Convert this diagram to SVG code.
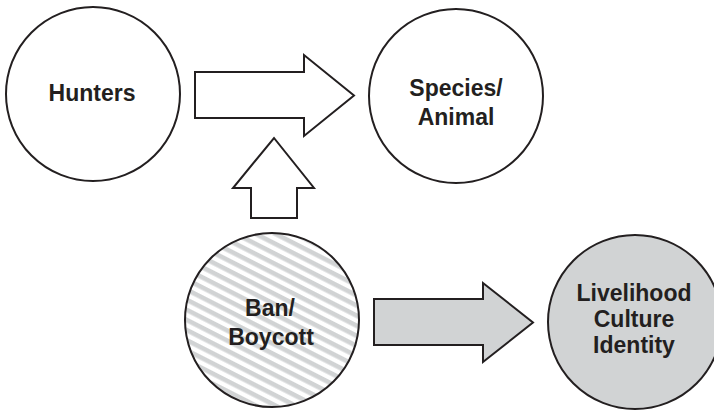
<svg xmlns="http://www.w3.org/2000/svg" width="714" height="411" viewBox="0 0 714 411">
  <style>
    .node { stroke: #231f20; stroke-width: 2; }
    .plain { fill: #ffffff; }
    .grey { fill: #d1d3d4; }
    .arrow { stroke: #231f20; stroke-width: 2; stroke-linejoin: miter; }
    .label { font-family: "Liberation Sans", Arial, sans-serif; font-weight: bold; font-size: 23px; fill: #231f20; text-anchor: middle; }
  </style>
  <defs>
    <!-- diagonal light-grey hatching for the ban node -->
    <pattern id="hatch" width="10" height="9" patternUnits="userSpaceOnUse" patternTransform="rotate(27)">
      <rect width="10" height="9" fill="#ffffff"/>
      <rect width="10" height="4.6" fill="#d1d3d4"/>
    </pattern>
  </defs>
  <rect width="714" height="411" fill="#ffffff"/>

  <g id="connectors">
    <polygon class="arrow plain" points="195,72 304,72 304,55 354,95.5 304,136 304,118 195,118"/>
    <polygon class="arrow plain" points="251,218 251,188 233,188 274,138 314,188 297,188 297,218"/>
    <polygon class="arrow grey" points="374,299 483,299 483,283 533,322.5 483,362 483,345 374,345"/>
  </g>

  <g id="hunters">
    <circle class="node plain" cx="93" cy="94" r="87"/>
    <text class="label" x="92" y="101">Hunters</text>
  </g>

  <g id="species">
    <circle class="node plain" cx="456" cy="96" r="87"/>
    <text class="label" x="456" y="96">Species/</text>
    <text class="label" x="456" y="125">Animal</text>
  </g>

  <g id="ban">
    <circle class="node" cx="272" cy="320" r="87" fill="url(#hatch)"/>
    <text class="label" x="270" y="316">Ban/</text>
    <text class="label" x="271" y="345">Boycott</text>
  </g>

  <g id="livelihood">
    <circle class="node grey" cx="635" cy="322" r="87"/>
    <text class="label" x="634" y="301">Livelihood</text>
    <text class="label" x="634" y="327">Culture</text>
    <text class="label" x="634" y="353">Identity</text>
  </g>
</svg>
